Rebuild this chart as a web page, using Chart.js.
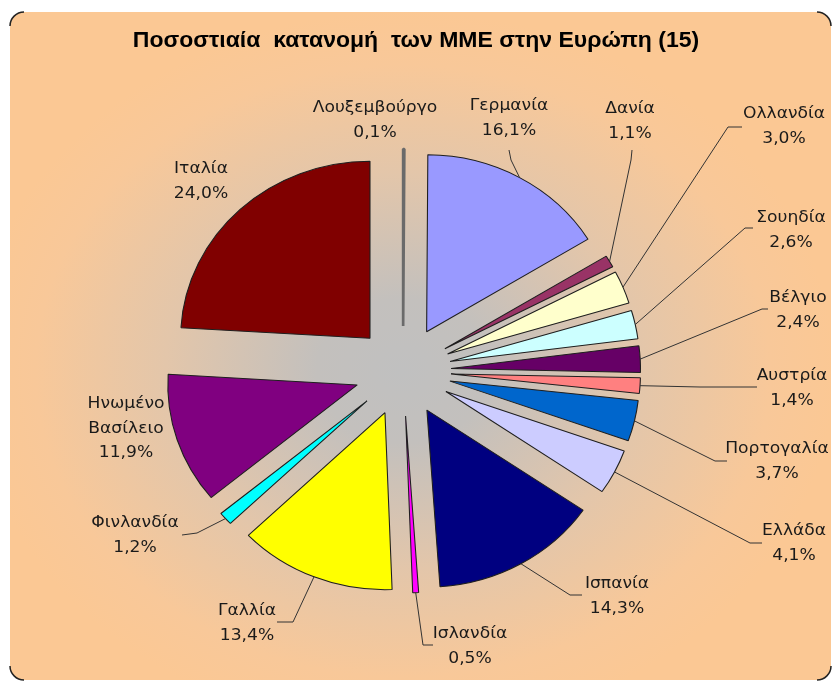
<!DOCTYPE html>
<html>
<head>
<meta charset="utf-8">
<script src="https://cdn.jsdelivr.net/npm/chart.js@4.4.1/dist/chart.umd.min.js"></script>
<style>
  html, body { margin: 0; padding: 0; background: #fff; }
  #wrap { width: 832px; height: 681px; }
</style>
</head>
<body>
<div id="wrap"><canvas id="pieChart" width="832" height="681"></canvas></div>
<script>
// Data (clockwise from 12 o'clock)
const countries = ['Λουξεμβούργο', 'Γερμανία', 'Δανία', 'Ολλανδία', 'Σουηδία', 'Βέλγιο', 'Αυστρία',
    'Πορτογαλία', 'Ελλάδα', 'Ισπανία', 'Ισλανδία', 'Γαλλία', 'Φινλανδία', 'Ηνωμένο Βασίλειο', 'Ιταλία'];
const shares = [0.1, 16.1, 1.1, 3.0, 2.6, 2.4, 1.4, 3.7, 4.1, 14.3, 0.5, 13.4, 1.2, 11.9, 24.0];
const sliceColors = ['#8c8c8c', '#9999ff', '#993366', '#ffffcc', '#ccffff', '#660066', '#ff8080',
    '#0066cc', '#ccccff', '#000080', '#ff00ff', '#ffff00', '#00ffff', '#800080', '#800000'];
const chartTitle = 'Ποσοστιαία  κατανομή  των ΜΜΕ στην Ευρώπη (15)';

// Look of the picture
const STRETCH = 1.07;     // the original is a bit wider than tall
const EXPLODE = 45;       // px each slice is pulled out
const RADIUS = 177;
const LABEL_FONT = '16px "DejaVu Sans", Verdana, sans-serif';

// label position (centre x, first baseline y) and leader line (anchor, elbow)
const labelLayout = [
    { x: 375, y: 112 },
    { x: 509, y: 110, lead: [[509, 150], [511, 160]] },
    { x: 630, y: 113, lead: [[632, 150], [631, 160]] },
    { x: 784, y: 118, lead: [[742, 127], [728, 127]] },
    { x: 791, y: 222, lead: [[753, 228], [745, 228]] },
    { x: 798, y: 302, lead: [[768, 309], [762, 309]] },
    { x: 792, y: 380, lead: [[757, 387], [700, 387]] },
    { x: 777, y: 453, lead: [[727, 461], [715, 461]] },
    { x: 794, y: 535, lead: [[762, 543], [750, 543]] },
    { x: 617, y: 588, lead: [[582, 595], [570, 595]] },
    { x: 470, y: 638, lead: [[433, 645], [423, 645]] },
    { x: 247, y: 615, lead: [[277, 622], [293, 622]] },
    { x: 135, y: 527, lead: [[182, 535], [197, 533]] },
    { x: 126, y: 408 },
    { x: 201, y: 173 }
];

function formatShare(v) {
    return v.toFixed(1).replace('.', ',') + '%';
}

// Pie whose slices are all pulled out by the same distance (Excel style)
class ExplodedPieController extends Chart.PieController {
    draw() {
        const ctx = this.chart.ctx;
        const area = this.chart.chartArea;
        const cx = (area.left + area.right) / 2;
        ctx.save();
        // horizontal stretch of the original picture
        ctx.translate(cx, 0);
        ctx.scale(STRETCH, 1);
        ctx.translate(-cx, 0);
        this._cachedMeta.data.forEach(arc => {
            const mid = (arc.startAngle + arc.endAngle) / 2;
            ctx.save();
            ctx.translate(Math.cos(mid) * EXPLODE, Math.sin(mid) * EXPLODE);
            arc.draw(ctx, area);
            ctx.restore();
        });
        ctx.restore();
    }
}
ExplodedPieController.id = 'explodedPie';
ExplodedPieController.defaults = Chart.PieController.defaults;
ExplodedPieController.overrides = Chart.PieController.overrides;
Chart.register(ExplodedPieController);

function pieCenter(chart) {
    const arc = chart.getDatasetMeta(0).data[0];
    return { x: arc.x, y: arc.y };
}

const decorPlugin = {
    id: 'decor',
    beforeDraw(chart) {
        const ctx = chart.ctx;
        const c = pieCenter(chart);
        const x0 = 10, y0 = 12, x1 = 831, y1 = 680, r = 14;
        ctx.save();
        ctx.beginPath();
        ctx.roundRect(x0, y0, x1 - x0, y1 - y0, r);
        ctx.clip();
        ctx.translate(c.x, c.y);
        ctx.scale(1.2, 1);
        const g = ctx.createRadialGradient(0, 0, 0, 0, 0, 360);
        g.addColorStop(0, '#c0c0c0');
        g.addColorStop(0.2, '#c3c0bd');
        g.addColorStop(0.55, '#e3c6aa');
        g.addColorStop(0.85, '#f8c899');
        g.addColorStop(1, '#fbc894');
        ctx.fillStyle = g;
        ctx.fillRect(-500, -500, 1000, 1000);
        ctx.restore();

        // dark corners of the frame
        ctx.save();
        ctx.strokeStyle = '#222';
        ctx.lineWidth = 1.5;
        [[x0 + r, y0 + r, Math.PI, 1.5 * Math.PI], [x1 - r, y0 + r, 1.5 * Math.PI, 2 * Math.PI],
         [x0 + r, y1 - r, 0.5 * Math.PI, Math.PI], [x1 - r, y1 - r, 0, 0.5 * Math.PI]].forEach(a => {
            ctx.beginPath();
            ctx.arc(a[0], a[1], r, a[2], a[3]);
            ctx.stroke();
        });

        // title
        ctx.fillStyle = '#000';
        ctx.font = 'bold 21.5px "Liberation Sans", Arial, sans-serif';
        ctx.textAlign = 'center';
        ctx.textBaseline = 'alphabetic';
        ctx.translate(416, 47);
        ctx.scale(STRETCH, 1);
        ctx.fillText(chartTitle, 0, 0);
        ctx.restore();
    },
    afterDraw(chart) {
        const ctx = chart.ctx;
        const c = pieCenter(chart);
        const arcs = chart.getDatasetMeta(0).data;
        ctx.save();
        ctx.font = LABEL_FONT;
        ctx.textAlign = 'center';
        ctx.fillStyle = '#1a1a1a';
        ctx.strokeStyle = '#333';
        ctx.lineWidth = 1;
        labelLayout.forEach((lay, i) => {
            const lines = countries[i].split(' ').concat([formatShare(shares[i])]);
            lines.forEach((t, k) => {
                ctx.save();
                ctx.translate(lay.x, lay.y + k * 24.5);
                ctx.scale(STRETCH, 1);
                ctx.fillText(t, 0, 0);
                ctx.restore();
            });
            if (lay.lead) {
                const arc = arcs[i];
                const mid = (arc.startAngle + arc.endAngle) / 2;
                const d = EXPLODE + arc.outerRadius;
                const px = c.x + STRETCH * Math.cos(mid) * d;
                const py = c.y + Math.sin(mid) * d;
                ctx.beginPath();
                ctx.moveTo(lay.lead[0][0], lay.lead[0][1]);
                ctx.lineTo(lay.lead[1][0], lay.lead[1][1]);
                ctx.lineTo(px, py);
                ctx.stroke();
            }
        });
        ctx.restore();
    }
};

const chart = new Chart(document.getElementById('pieChart'), {
    type: 'explodedPie',
    data: {
        labels: countries,
        datasets: [{
            data: shares,
            backgroundColor: sliceColors,
            // the 0,1% sliver shows up as a grey stroke in the original
            borderColor: sliceColors.map((c, i) => i === 0 ? '#6a6a6a' : '#1e1e1e'),
            borderWidth: sliceColors.map((c, i) => i === 0 ? 2.5 : 1),
            radius: RADIUS,
            offset: 0
        }]
    },
    options: {
        responsive: false,
        animation: false,
        events: [],
        layout: { padding: { left: 203, right: 229, top: 171, bottom: 110 } },
        plugins: {
            legend: { display: false },
            title: { display: false },
            tooltip: { enabled: false }
        }
    },
    plugins: [decorPlugin]
});
</script>
</body>
</html>
